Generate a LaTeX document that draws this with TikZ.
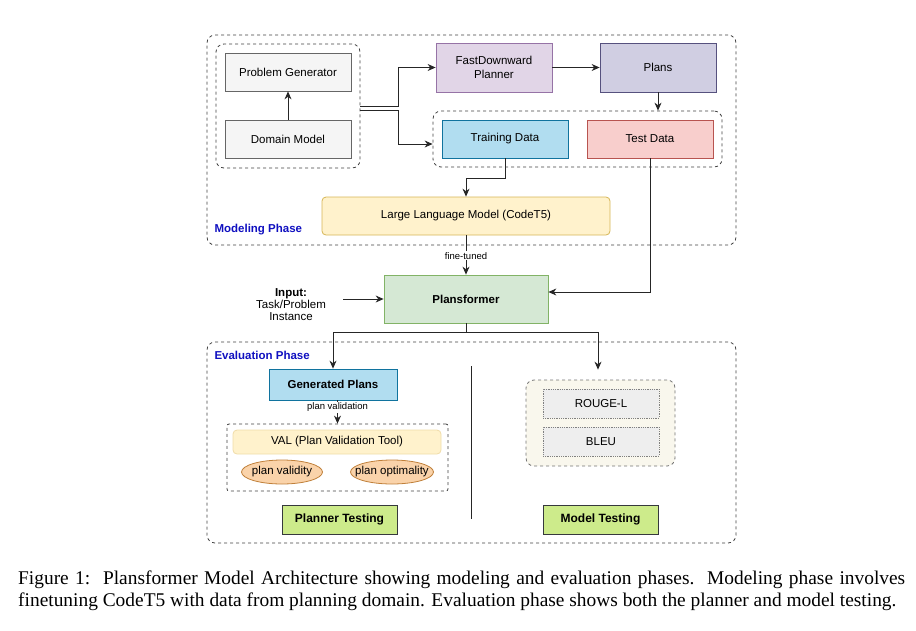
\documentclass[tikz,border=0pt]{standalone}
\usepackage{fontspec}
\setmainfont{Liberation Sans}
\newfontfamily\capfont{Liberation Serif}
\usepackage{xcolor}
\usetikzlibrary{shapes.geometric,arrows.meta}

\begin{document}
\begin{tikzpicture}[x=1pt,y=-1pt,
  mybox/.style={draw=#1line,fill=#1fill,rectangle,line width=0.8pt,
    font=\fontsize{11.5}{13.5}\selectfont,align=center,inner sep=2pt},
  groupbox/.style={draw=black!75,dashed,rounded corners=8pt,line width=0.8pt},
  phaselabel/.style={anchor=west,text=labelblue,font=\bfseries\fontsize{11.5}{13}\selectfont},
  smalllabel/.style={fill=white,font=\fontsize{9.5}{10}\selectfont,inner sep=1pt},
  conn/.style={draw=black!85,line width=0.8pt,-{Stealth[length=8pt,width=7pt]}}]
\definecolor{greyfill}{HTML}{F5F5F5}
\definecolor{greyline}{HTML}{666666}
\definecolor{purplefill}{HTML}{E1D5E7}
\definecolor{purpleline}{HTML}{9673A6}
\definecolor{plansfill}{HTML}{D0CEE2}
\definecolor{plansline}{HTML}{56517E}
\definecolor{bluefill}{HTML}{B1DDF0}
\definecolor{blueline}{HTML}{10739E}
\definecolor{redfill}{HTML}{F8CECC}
\definecolor{redline}{HTML}{B85450}
\definecolor{yellowfill}{HTML}{FFF2CC}
\definecolor{yellowline}{HTML}{D6B656}
\definecolor{valline}{HTML}{F0DCA8}
\definecolor{greenfill}{HTML}{D5E8D4}
\definecolor{greenline}{HTML}{82B366}
\definecolor{limefill}{HTML}{CDEB8B}
\definecolor{limeline}{HTML}{36393D}
\definecolor{orangefill}{HTML}{FAD3AA}
\definecolor{orangeline}{HTML}{C0803A}
\definecolor{creamfill}{HTML}{F9F7ED}
\definecolor{metricfill}{HTML}{EEEEEE}
\definecolor{metricline}{HTML}{808080}
\definecolor{labelblue}{HTML}{1010C0}
\useasboundingbox (0,0) rectangle (916,630);
% modeling phase
\node[groupbox,minimum width=529,minimum height=210] (modelphase) at (471.5,140) {};
\node[groupbox,minimum width=144,minimum height=124] (gengroup) at (288,106) {};
\node[groupbox,minimum width=289,minimum height=56] (datagroup) at (577.5,139) {};
\node[mybox=grey,minimum width=126,minimum height=38] (probgen) at (288,72) {Problem Generator};
\node[mybox=grey,minimum width=126,minimum height=38] (dommodel) at (288,139) {Domain Model};
\node[mybox=purple,minimum width=116,minimum height=49] (fastdown) at (494,67.5) {FastDownward\\Planner};
\node[mybox=plans,minimum width=116,minimum height=49] (plans) at (658,67.5) {Plans};
\node[mybox=blue,minimum width=126,minimum height=38] (training) at (505,139) {Training Data};
\node[mybox=red,minimum width=126,minimum height=38] (testdata) at (650,139) {Test Data};
\node[mybox=yellow,rounded corners=4pt,minimum width=288,minimum height=38] (llm) at (466,216) {Large Language Model (CodeT5)};
\node[phaselabel] (modlabel) at (211,230) {Modeling Phase};
% plansformer
\node[mybox=green,font=\bfseries\fontsize{11.5}{13}\selectfont,minimum width=164,minimum height=48] (plansformer) at (466,299) {Plansformer};
\node[align=center,font=\fontsize{11.5}{12}\selectfont] (input) at (291,305) {\textbf{Input:}\\Task/Problem\\Instance};
% evaluation phase
\node[groupbox,minimum width=529,minimum height=201] (evalphase) at (471.5,442.5) {};
\node[groupbox,rounded corners=2pt,minimum width=221,minimum height=67] (valgroup) at (337.5,457.5) {};
\node[groupbox,draw=black!55,fill=creamfill,minimum width=149,minimum height=86] (metricgroup) at (600.5,423) {};
\node[phaselabel] (evallabel) at (211,355) {Evaluation Phase};
\node[mybox=blue,font=\bfseries\fontsize{11.5}{13}\selectfont,minimum width=128,minimum height=31] (genplans) at (333,384.5) {Generated Plans};
\node[mybox=yellow,draw=valline,rounded corners=4pt,minimum width=208,minimum height=24] (val) at (337,442) {VAL (Plan Validation Tool)};
\node[mybox=orange,ellipse,minimum width=81,minimum height=24,inner xsep=-8pt,inner ysep=0pt] (validity) at (282,472) {plan validity};
\node[mybox=orange,ellipse,minimum width=83,minimum height=24,inner xsep=-8pt,inner ysep=0pt] (optimality) at (392,472) {plan optimality};
\foreach \name/\metric/\pos in {rouge/ROUGE-L/403.5,bleu/BLEU/441.5}
  {\node[mybox=metric,densely dotted,minimum width=116,minimum height=29] (\name) at (601,\pos) {\metric};}
\node[mybox=lime,font=\bfseries\fontsize{12}{13}\selectfont,minimum width=115,minimum height=29] (plantest) at (339.5,519.5) {Planner Testing};
\node[mybox=lime,font=\bfseries\fontsize{12}{13}\selectfont,minimum width=115,minimum height=29] (modeltest) at (600.5,519.5) {Model Testing};
\draw[black!85,line width=0.8pt] (471,366) -- (471,519);
% connectors
\draw[conn] (dommodel) -- (probgen);
\draw[conn] (gengroup.east) -- ++(38,0) |- (fastdown.west);
\draw[conn] ([yshift=-4pt]gengroup.east) -- ++(38,0) |- ([yshift=-5pt]datagroup.west);
\draw[conn] (fastdown) -- (plans);
\draw[conn] (plans.south) -- (plans.south |- datagroup.north);
\draw[conn] (training.south) -- ++(0,20) -| (llm.north);
\draw[conn] (llm) -- node[smalllabel,pos=0.52] {fine-tuned} (plansformer);
\draw[conn] (testdata.south) |- ([yshift=7pt]plansformer.east);
\draw[conn,shorten <=14pt] (input.east |- plansformer.west) -- (plansformer.west);
\draw[conn,-] (plansformer.south) -- ++(0,9) coordinate (split);
\draw[conn] (split) -| (genplans.north);
\draw[conn,shorten >=10pt] (split) -| ([xshift=-2.5pt]metricgroup.north);
\draw[conn] (valgroup.north |- genplans.south) -- node[smalllabel,pos=0.3] {plan validation} (valgroup.north);
% caption
\node[anchor=north west,text width=887pt,align=justify,inner sep=0pt,
  font=\capfont\fontsize{19.4}{22}\selectfont] (caption) at (18,571)
  {Figure 1:\ \ Plansformer Model Architecture showing modeling and evaluation phases.\ \ Modeling phase involves\linebreak
  finetuning CodeT5 with data from planning domain. Evaluation phase shows both the planner and model testing.};
\end{tikzpicture}
\end{document}
